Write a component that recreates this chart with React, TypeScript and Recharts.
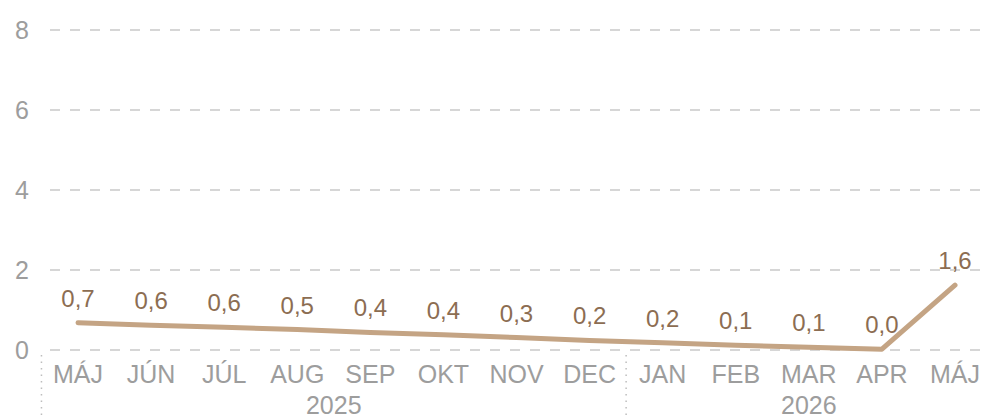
import React from 'react';
import { LineChart, Line, XAxis, YAxis, CartesianGrid, LabelList } from 'recharts';

const months = ['MÁJ', 'JÚN', 'JÚL', 'AUG', 'SEP', 'OKT', 'NOV', 'DEC', 'JAN', 'FEB', 'MAR', 'APR', 'MÁJ'];
const values = [0.68, 0.62, 0.57, 0.51, 0.44, 0.38, 0.31, 0.24, 0.18, 0.12, 0.07, 0.02, 1.62];
const yearGroups = [
  { label: '2025', start: 0, end: 7 },
  { label: '2026', start: 8, end: 12 },
];
const yTicks = [0, 2, 4, 6, 8];

const data = months.map((m, i) => ({ key: `${m}-${i}`, month: m, value: values[i] }));

const FONT = '"Liberation Sans", Arial, sans-serif';
const STEP = (955 - 78) / 12;

const fmt = (v: number) => v.toFixed(1).replace('.', ',');

const MonthTick: React.FC<any> = ({ x, y, index }) => {
  const group = yearGroups.find((g) => g.start === index);
  return (
    <g>
      <text x={x} y={y + 25} textAnchor="middle" fill="#9d9d9d" fontSize={25} fontFamily={FONT}>
        {months[index]}
      </text>
      {group && (
        <>
          <line
            x1={x - STEP / 2}
            x2={x - STEP / 2}
            y1={y - 3}
            y2={y + 70}
            stroke="#bdbdbd"
            strokeWidth={1.5}
            strokeDasharray="1.5 5"
          />
          <text
            x={x + ((group.end - group.start) * STEP) / 2}
            y={y + 56}
            textAnchor="middle"
            fill="#9d9d9d"
            fontSize={25}
            fontFamily={FONT}
          >
            {group.label}
          </text>
        </>
      )}
    </g>
  );
};

const ValueTick: React.FC<any> = ({ y, payload }) => (
  <text x={22} y={y} dy="0.36em" textAnchor="middle" fill="#9d9d9d" fontSize={25} fontFamily={FONT}>
    {payload.value}
  </text>
);

const App: React.FC = () => {
  return (
    <div style={{ position: 'absolute', left: 0, top: 0, width: 984, height: 416, background: '#fff' }}>
      <LineChart width={984} height={416} data={data} margin={{ top: 30, right: 0, left: 0, bottom: 0 }}>
        <CartesianGrid vertical={false} stroke="#d6d6d6" strokeWidth={2} strokeDasharray="10 10" />
        <XAxis
          dataKey="key"
          scale="point"
          padding={{ left: 28, right: 29 }}
          axisLine={false}
          tickLine={false}
          height={66}
          interval={0}
          tick={<MonthTick />}
        />
        <YAxis
          domain={[0, 8]}
          ticks={yTicks}
          width={50}
          axisLine={false}
          tickLine={false}
          tick={<ValueTick />}
        />
        <Line
          type="linear"
          dataKey="value"
          stroke="#c4a484"
          strokeWidth={5}
          strokeLinecap="round"
          strokeLinejoin="round"
          dot={false}
          activeDot={false}
          isAnimationActive={false}
        >
          <LabelList
            dataKey="value"
            position="top"
            offset={16}
            formatter={(v: any) => fmt(Number(v))}
            fill="#8c6d52"
            fontSize={24}
            fontFamily={FONT}
          />
        </Line>
      </LineChart>
    </div>
  );
};

export default App;
